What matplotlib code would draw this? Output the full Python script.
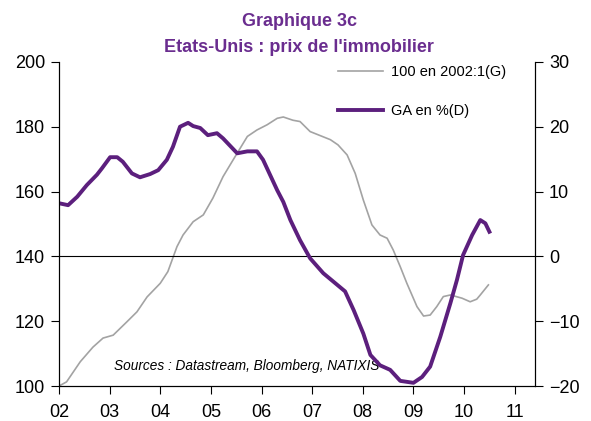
import numpy as np
import matplotlib.pyplot as plt

plt.rcParams["font.family"] = ["Liberation Sans", "DejaVu Sans"]

PURPLE = "#5c1f7d"
TITLE = "#6a2d8f"
GREY = "#a3a3a3"

# indice des prix, 100 en 2002:1 (axe gauche)
idx_t = [2002.00, 2002.15, 2002.42, 2002.67, 2002.87, 2003.07, 2003.34, 2003.54,
         2003.74, 2004.00, 2004.15, 2004.33, 2004.45, 2004.65, 2004.85, 2005.04,
         2005.24, 2005.44, 2005.72, 2005.91, 2006.11, 2006.31, 2006.43, 2006.62,
         2006.76, 2006.96, 2007.36, 2007.51, 2007.69, 2007.85, 2008.01, 2008.18,
         2008.34, 2008.48, 2008.60, 2008.74, 2008.87, 2009.07, 2009.20, 2009.33,
         2009.46, 2009.59, 2009.73, 2009.96, 2010.12, 2010.25, 2010.32, 2010.48]
idx_v = [100, 101.3, 107.5, 112, 114.8, 115.7, 119.8, 122.9,
         127.5, 131.7, 135.3, 143, 146.6, 150.7, 152.8, 158,
         164.6, 169.8, 177, 179, 180.6, 182.6, 183, 182,
         181.6, 178.5, 176, 174.4, 171.3, 165.6, 157.4, 149.7,
         146.6, 145.6, 142, 136.8, 131.7, 124.5, 121.6, 121.9,
         124.5, 127.6, 128.1, 127.1, 126, 126.8, 128.1, 131.2]

# glissement annuel en % (axe droit)
ga_t = [2002.00, 2002.18, 2002.36, 2002.55, 2002.75, 2002.85, 2003.01, 2003.15,
        2003.26, 2003.44, 2003.60, 2003.80, 2003.96, 2004.13, 2004.25, 2004.39,
        2004.55, 2004.65, 2004.79, 2004.94, 2005.12, 2005.24, 2005.52, 2005.72,
        2005.91, 2006.03, 2006.31, 2006.43, 2006.57, 2006.76, 2006.96, 2007.22,
        2007.42, 2007.65, 2007.82, 2008.01, 2008.15, 2008.34, 2008.54, 2008.74,
        2009.00, 2009.17, 2009.33, 2009.53, 2009.73, 2009.86, 2009.98, 2010.16,
        2010.32, 2010.42, 2010.50]
ga_v = [8.2, 7.9, 9.2, 11.0, 12.6, 13.6, 15.3, 15.3,
        14.6, 12.8, 12.2, 12.7, 13.3, 14.9, 16.9, 20.0,
        20.6, 20.1, 19.8, 18.7, 19.0, 18.2, 15.9, 16.2,
        16.2, 14.9, 10.2, 8.4, 5.6, 2.5, -0.3, -2.6,
        -3.9, -5.4, -8.3, -11.9, -15.2, -16.8, -17.5, -19.2,
        -19.5, -18.6, -17.0, -12.4, -7.2, -3.6, 0.2, 3.3,
        5.6, 5.1, 3.8]

years = list(range(2002, 2012))
year_labels = ["02", "03", "04", "05", "06", "07", "08", "09", "10", "11"]

fig = plt.figure(figsize=(5.91, 4.21), dpi=100)
ax = fig.add_axes([0.0998, 0.083, 0.8054, 0.770])
ax2 = ax.twinx()

l1, = ax.plot(idx_t, idx_v, color=GREY, lw=1.2, label="100 en 2002:1(G)")
ax.axhline(140, color="black", lw=0.8)
l2, = ax2.plot(ga_t, ga_v, color=PURPLE, lw=2.8, label="GA en %(D)")

ax.set_xlim(2002, 2011.4)
ax.set_ylim(100, 200)
ax2.set_ylim(-20, 30)
ax.set_yticks([100, 120, 140, 160, 180, 200])
ax2.set_yticks([-20, -10, 0, 10, 20, 30])
ax.set_xticks(years)
ax.set_xticklabels(year_labels)

for a in (ax, ax2):
    a.spines["top"].set_visible(False)
    a.tick_params(labelsize=13, length=6, width=0.8, direction="out")
ax.tick_params(axis="x", pad=7)
ax.tick_params(axis="y", pad=4)
ax2.tick_params(axis="y", pad=4)

ax.legend([l1, l2], [l1.get_label(), l2.get_label()], loc="upper left",
          bbox_to_anchor=(0.558, 1.03), frameon=False, fontsize=10.5,
          handlelength=3.1, labelspacing=1.7, handletextpad=0.55)

ax.text(0.115, 0.062, "Sources : Datastream, Bloomberg, NATIXIS", transform=ax.transAxes,
        fontsize=9.8, style="italic", ha="left", va="center")

fig.text(0.506, 0.948, "Graphique 3c", ha="center", va="center", fontsize=13,
         fontweight="bold", color=TITLE)
fig.text(0.506, 0.886, "Etats-Unis : prix de l'immobilier", ha="center", va="center",
         fontsize=13, fontweight="bold", color=TITLE)

fig.savefig("out.png", dpi=100)
